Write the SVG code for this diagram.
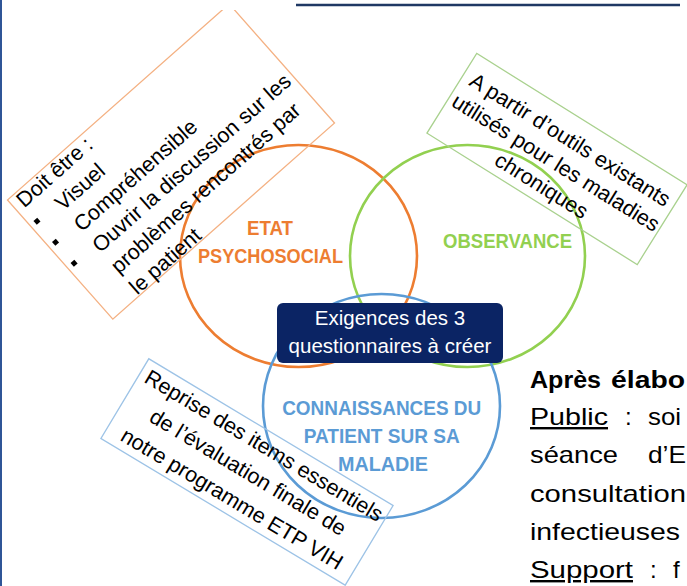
<svg xmlns="http://www.w3.org/2000/svg" width="687" height="586" viewBox="0 0 687 586">
  <style>
    .ring { fill: none; stroke-width: 2.6; }
    .note { fill: none; stroke-width: 1.3; }
    .nt { font-family: "Liberation Sans", Arial, sans-serif; font-size: 21.5px; fill: #000; }
    .ntc { text-anchor: middle; }
    .lbl { font-family: "Liberation Sans", Arial, sans-serif; font-weight: bold; font-size: 20px; text-anchor: middle; }
    .core { font-family: "Liberation Sans", Arial, sans-serif; font-size: 20.5px; fill: #fff; text-anchor: middle; }
    .body { font-family: "Liberation Sans", Arial, sans-serif; font-size: 24px; fill: #000; }
    .bold { font-weight: bold; font-size: 23px; }
    .ul { text-decoration: underline; }
  </style>
  <defs>
    <clipPath id="clipTop"><rect x="0" y="10" width="687" height="576"/></clipPath>
  </defs>
  <rect width="687" height="586" fill="#fff"/>
  <!-- frame -->
  <line x1="1" y1="0" x2="1" y2="586" stroke="#2F5597" stroke-width="2"/>
  <line x1="296" y1="5" x2="680" y2="5" stroke="#1F3864" stroke-width="2.5"/>

  <!-- circles -->
  <g id="etat-psychosocial">
    <ellipse class="ring" cx="298.5" cy="256" rx="118.5" ry="111" stroke="#ED7D31"/>
    <text class="lbl" fill="#ED7D31" x="270" y="235" textLength="46" lengthAdjust="spacingAndGlyphs">ETAT</text>
    <text class="lbl" fill="#ED7D31" x="270.5" y="262.5" textLength="145" lengthAdjust="spacingAndGlyphs">PSYCHOSOCIAL</text>
  </g>
  <g id="observance">
    <ellipse class="ring" cx="467.5" cy="256" rx="117.5" ry="111" stroke="#92D050"/>
    <text class="lbl" fill="#92D050" x="507.5" y="248" textLength="129" lengthAdjust="spacingAndGlyphs">OBSERVANCE</text>
  </g>
  <g id="connaissances">
    <ellipse class="ring" cx="381.5" cy="406" rx="118.5" ry="112" stroke="#5B9BD5"/>
    <text class="lbl" fill="#5B9BD5" x="381.7" y="415" textLength="199" lengthAdjust="spacingAndGlyphs">CONNAISSANCES DU</text>
    <text class="lbl" fill="#5B9BD5" x="381.7" y="443" textLength="156" lengthAdjust="spacingAndGlyphs">PATIENT SUR SA</text>
    <text class="lbl" fill="#5B9BD5" x="383" y="471" textLength="90" lengthAdjust="spacingAndGlyphs">MALADIE</text>
  </g>

  <!-- notes -->
  <g id="note-psychosocial" clip-path="url(#clipTop)">
    <g transform="translate(171,161.5) rotate(-41.5)">
      <rect class="note" x="-148" y="-79.5" width="296" height="159" stroke="#F4B183"/>
      <text class="nt" x="-141" y="-62">Doit être :</text>
      <rect x="-142.5" y="-46.5" width="5" height="5" fill="#000"/>
      <rect x="-142.5" y="-18.5" width="5" height="5" fill="#000"/>
      <rect x="-142.5" y="9.5" width="5" height="5" fill="#000"/>
      <text class="nt" x="-114" y="-34">Visuel</text>
      <text class="nt" x="-114" y="-6">Compréhensible</text>
      <text class="nt" x="-114" y="22">Ouvrir la discussion sur les</text>
      <text class="nt" x="-114" y="50">problèmes rencontrés par</text>
      <text class="nt" x="-114" y="78">le patient</text>
    </g>
  </g>
  <g id="note-observance">
    <g transform="translate(557,159) rotate(32)">
      <rect class="note" x="-124" y="-47" width="248" height="94" stroke="#A9D18E"/>
      <text class="nt ntc" x="1" y="-16">A partir d’outils existants</text>
      <text class="nt ntc" x="1" y="11">utilisés pour les maladies</text>
      <text class="nt ntc" x="1" y="38">chroniques</text>
    </g>
  </g>
  <g id="note-connaissances">
    <g transform="translate(247,472) rotate(31)">
      <rect class="note" x="-142.5" y="-46.5" width="285" height="93" stroke="#9DC3E6"/>
      <text class="nt ntc" x="1" y="-24">Reprise des items essentiels</text>
      <text class="nt ntc" x="1" y="7">de l’évaluation finale de</text>
      <text class="nt ntc" x="1" y="38">notre programme ETP VIH</text>
    </g>
  </g>

  <!-- central node -->
  <g id="exigences">
    <rect x="277" y="303" width="226" height="60" rx="6" fill="#0B2464"/>
    <text class="core"><tspan x="390" y="325">Exigences des 3</tspan><tspan x="390" y="353">questionnaires à créer</tspan></text>
  </g>

  <!-- side text -->
  <g id="apres-elaboration">
    <text class="body bold" x="530" y="388" textLength="71" lengthAdjust="spacingAndGlyphs">Après</text>
    <text class="body bold" x="611" y="388" textLength="74" lengthAdjust="spacingAndGlyphs">élabo</text>
    <text class="body ul" x="530" y="425" textLength="78" lengthAdjust="spacingAndGlyphs">Public</text>
    <text class="body" x="625" y="425">:</text>
    <text class="body" x="648" y="425" textLength="33" lengthAdjust="spacingAndGlyphs">soi</text>
    <text class="body" x="530" y="463" textLength="88" lengthAdjust="spacingAndGlyphs">séance</text>
    <text class="body" x="648" y="463" textLength="38" lengthAdjust="spacingAndGlyphs">d’E</text>
    <text class="body" x="530" y="501.5" textLength="156" lengthAdjust="spacingAndGlyphs">consultation</text>
    <text class="body" x="530" y="540" textLength="150" lengthAdjust="spacingAndGlyphs">infectieuses</text>
    <text class="body ul" x="530" y="578" textLength="103" lengthAdjust="spacingAndGlyphs">Support</text>
    <text class="body" x="650" y="578">:</text>
    <text class="body" x="673" y="578">f</text>
  </g>
</svg>
